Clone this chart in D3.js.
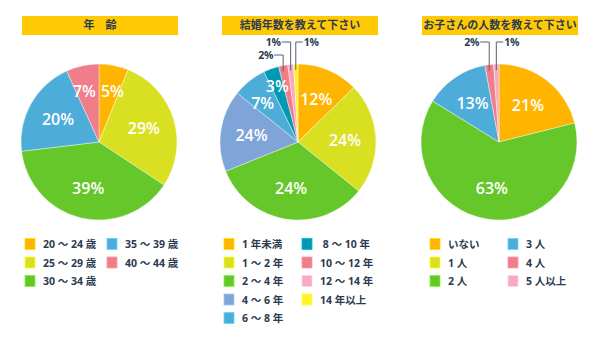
<!DOCTYPE html>
<html><head><meta charset="utf-8">
<script src="https://cdn.jsdelivr.net/npm/d3@7"></script>
<style>
html,body{margin:0;padding:0;background:#fff;}
svg{display:block;}
</style></head>
<body>
<svg id="chart" width="600" height="342"></svg>
<script>
// ---------- DATA ----------
const ageTitle = "年　齢";
const ageCategories = ["20 ～ 24 歳", "25 ～ 29 歳", "30 ～ 34 歳", "35 ～ 39 歳", "40 ～ 44 歳"];
const ageValues = [6.1, 28.2, 38.8, 20.1, 6.8];
const ageLabels = ["5%", "29%", "39%", "20%", "7%"];

const yearsTitle = "結婚年数を教えて下さい";
const yearsCategories = ["1 年未満", "1 ～ 2 年", "2 ～ 4 年", "4 ～ 6 年", "6 ～ 8 年", " 8 ～ 10 年", "10 ～ 12 年", "12 ～ 14 年", "14 年以上"];
const yearsValues = [12.7, 23.1, 33.1, 16.9, 7.0, 3.2, 1.9, 1.2, 0.9];
const yearsLabels = ["12%", "24%", "24%", "24%", "7%", "3%", "2%", "1%", "1%"];

const kidsTitle = "お子さんの人数を教えて下さい";
const kidsCategories = ["いない", "1 人", "2 人", "3 人", "4 人", "5 人以上"];
const kidsValues = [21.1, 0, 62.7, 13.3, 1.8, 1.1];
const kidsLabels = ["21%", "", "63%", "13%", "2%", "1%"];

// ---------- STYLE ----------
const C = {
  orange: "#FFB400", lime: "#D9E021", green: "#66C72A", blue: "#4DADD8",
  pink: "#EF7D8A", lavender: "#7FA4D8", teal: "#0099B4", lightpink: "#F8AABF", yellow: "#FFF22D"
};
const ageColors = [C.orange, C.lime, C.green, C.blue, C.pink];
const yearsColors = [C.orange, C.lime, C.green, C.lavender, C.blue, C.teal, C.pink, C.lightpink, C.yellow];
const kidsColors = [C.orange, C.lime, C.green, C.blue, C.pink, C.lightpink];

const navy = "#2c3b50";
const fontJP = "'Noto Sans CJK JP', 'Open Sans', sans-serif";
const fontNum = "'Open Sans', 'Noto Sans CJK JP', sans-serif";

const charts = [
  {title: ageTitle, cats: ageCategories, vals: ageValues, labels: ageLabels, colors: ageColors,
   cx: 99, barX: 22, legX: [25, 107]},
  {title: yearsTitle, cats: yearsCategories, vals: yearsValues, labels: yearsLabels, colors: yearsColors,
   cx: 298, barX: 222, legX: [224, 302]},
  {title: kidsTitle, cats: kidsCategories, vals: kidsValues, labels: kidsLabels, colors: kidsColors,
   cx: 499, barX: 422, legX: [430, 508]}
];

const svg = d3.select("#chart");
const cy = 142, R = 78;
const barW = 156, barY = 16, barH = 19;

charts.forEach(ch => {
  const g = svg.append("g");
  // title bar
  g.append("rect").attr("x", ch.barX).attr("y", barY).attr("width", barW).attr("height", barH)
    .attr("fill", "#FFCA05");
  g.append("text").attr("x", ch.barX + barW / 2).attr("y", barY + barH / 2 + 0.5)
    .attr("text-anchor", "middle").attr("dominant-baseline", "middle")
    .attr("font-family", fontJP).attr("font-weight", 700).attr("font-size", 11)
    .attr("fill", navy).text(ch.title);

  // pie
  const pie = d3.pie().sort(null).value(d => d.v);
  const data = ch.vals.map((v, i) => ({v, i, label: ch.labels[i], color: ch.colors[i]}));
  const arcs = pie(data);
  const arc = d3.arc().innerRadius(0).outerRadius(R);
  const pg = g.append("g").attr("transform", `translate(${ch.cx},${cy})`);
  pg.selectAll("path").data(arcs.filter(a => a.data.v > 0)).join("path")
    .attr("d", arc).attr("fill", d => d.data.color)
    .attr("stroke", "#fff").attr("stroke-width", 0.4);

  // inside labels
  const inside = [];
  arcs.forEach(a => {
    const v = a.data.v;
    if (v < 2.5 || !a.data.label) return;
    const rr = v >= 10 ? 47 : (v >= 5 ? 52 : 60);
    const mid = (a.startAngle + a.endAngle) / 2;
    inside.push({x: rr * Math.sin(mid), y: -rr * Math.cos(mid), label: a.data.label});
  });
  // keep neighbouring labels apart
  for (let i = 0; i < inside.length; i++) {
    for (let j = i + 1; j < inside.length; j++) {
      const p = inside[i], q = inside[j];
      const dx = q.x - p.x, dy = q.y - p.y;
      if (Math.abs(dy) < 14 && Math.abs(dx) < 28) {
        const s = dx >= 0 ? 1 : -1, push = (28 - Math.abs(dx)) / 2;
        p.x -= s * push; q.x += s * push;
      } else if (Math.abs(dy) < 18 && Math.abs(dx) < 20) {
        // stacked diagonally: nudge the lower one outward/left
        const lower = p.y > q.y ? p : q;
        lower.x -= 3; lower.y += 1.5;
      }
    }
  }
  inside.forEach(p => {
    pg.append("text").attr("x", p.x).attr("y", p.y)
      .attr("text-anchor", "middle").attr("dominant-baseline", "central")
      .attr("font-family", fontNum).attr("font-weight", 600).attr("font-size", 16)
      .attr("fill", "#fff").text(p.label);
  });

  // callouts for tiny slices
  const small = arcs.filter(a => a.data.v > 0 && a.data.v < 2.5);
  const leftOnes = small.slice(0, small.length - 1);
  const rightOne = small[small.length - 1];
  const lineColor = "#55606e";
  leftOnes.forEach((a, k) => {
    const level = leftOnes.length - 1 - k; // last one is highest
    const mid = (a.startAngle + a.endAngle) / 2;
    const x = R * Math.sin(mid);
    const yTop = -R - 22 + level * 13;
    const yBot = -R * Math.cos(mid) + 6;
    pg.append("path").attr("d", `M${x},${yBot}V${yTop}H${x - 9}`)
      .attr("fill", "none").attr("stroke", lineColor).attr("stroke-width", 1);
    pg.append("text").attr("x", x - 10).attr("y", yTop).attr("text-anchor", "end")
      .attr("dominant-baseline", "central")
      .attr("font-family", fontNum).attr("font-weight", 700).attr("font-size", 10.5)
      .attr("letter-spacing", -0.3)
      .attr("fill", navy).text(a.data.label);
  });
  if (rightOne) {
    const a = rightOne;
    const mid = (a.startAngle + a.endAngle) / 2;
    const x = R * Math.sin(mid);
    const yTop = -R - 22;
    const yBot = -R * Math.cos(mid) + 6;
    pg.append("path").attr("d", `M${x},${yBot}V${yTop}H${x + 7}`)
      .attr("fill", "none").attr("stroke", lineColor).attr("stroke-width", 1);
    pg.append("text").attr("x", x + 8).attr("y", yTop).attr("text-anchor", "start")
      .attr("dominant-baseline", "central")
      .attr("font-family", fontNum).attr("font-weight", 700).attr("font-size", 10.5)
      .attr("letter-spacing", -0.3)
      .attr("fill", navy).text(a.data.label);
  }

  // legend
  const perCol = Math.ceil(ch.cats.length / 2);
  const rowY = d3.scaleLinear().domain([0, 1]).range([244, 262.5]);
  ch.cats.forEach((c, i) => {
    const col = Math.floor(i / perCol), row = i % perCol;
    const x = ch.legX[col], y = rowY(row);
    g.append("rect").attr("x", x).attr("y", y - 5.5).attr("width", 10).attr("height", 11)
      .attr("fill", ch.colors[i]).attr("stroke", d3.color(ch.colors[i]).brighter(0.6))
      .attr("stroke-width", 0.8);
    g.append("text").attr("x", x + 18).attr("y", y)
      .attr("dominant-baseline", "central").attr("xml:space", "preserve")
      .style("white-space", "pre")
      .attr("font-family", fontNum).attr("font-weight", 700).attr("font-size", 10.5)
      .attr("fill", navy).text(c);
  });
});
</script>
</body></html>
